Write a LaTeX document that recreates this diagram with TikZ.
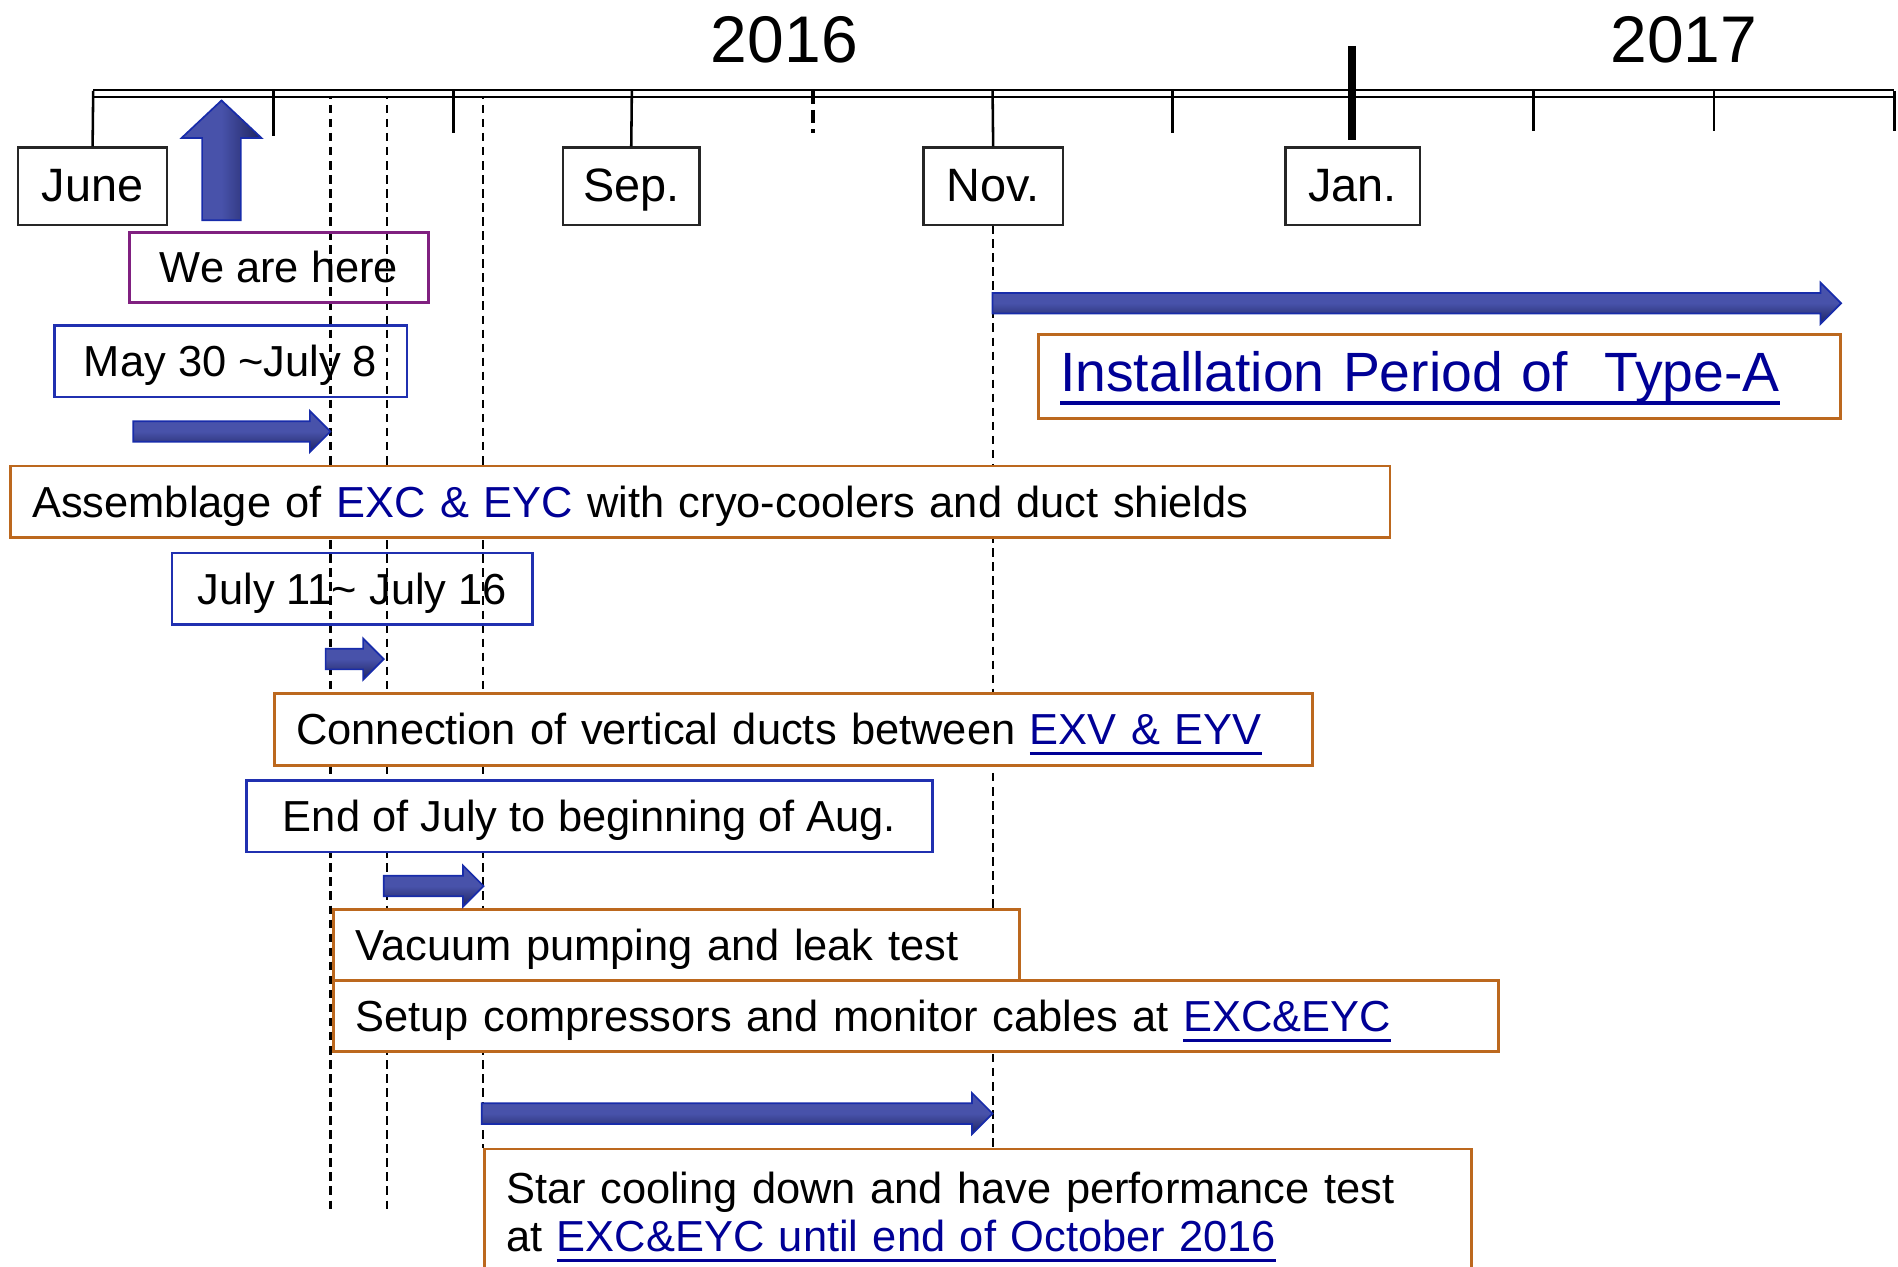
\documentclass[tikz,border=0pt]{standalone}
\usepackage{fontspec}
\setmainfont{Liberation Sans}
\usetikzlibrary{positioning}

\definecolor{taskorange}{RGB}{188,104,30}
\definecolor{periodblue}{RGB}{32,48,176}
\definecolor{herepurple}{RGB}{128,32,128}
\definecolor{linkblue}{RGB}{0,0,150}
\definecolor{arrowlight}{RGB}{72,82,170}
\definecolor{arrowdark}{RGB}{30,36,96}
\definecolor{arrowedge}{RGB}{24,44,170}

\newcommand\taskfont{\fontsize{10.2}{11.4}\selectfont}
\newcommand\monthfont{\fontsize{11}{13}\selectfont}
\newcommand\yearfont{\fontsize{15.5}{18}\selectfont}
\newcommand\typeafont{\fontsize{13}{16}\selectfont}
\newsavebox\linkbox
\newcommand\tlink[1]{{\color{linkblue}\sbox\linkbox{#1}\rlap{\rule[-0.24em]{\wd\linkbox}{0.07em}}\usebox\linkbox}}

\begin{document}
\begin{tikzpicture}[x=0.01cm, y=-0.01cm,
  capcentre/.style={text height=0.72em, text depth=0pt},
  month/.style={draw=black!85, fill=white, line width=0.6pt, minimum height=0.64cm, inner sep=0pt, font=\monthfont, capcentre},
  year/.style={inner sep=0pt, font=\yearfont},
  here/.style={draw=herepurple, line width=0.6pt, minimum height=0.58cm, font=\taskfont, capcentre},
  period/.style={draw=periodblue, line width=0.6pt, minimum height=0.59cm, font=\taskfont, capcentre},
  task/.style={draw=taskorange, fill=white, line width=0.7pt, minimum height=0.59cm, inner xsep=0.18cm, align=left, font=\taskfont, capcentre},
  guide/.style={line width=0.5pt, dash pattern=on 2pt off 1.3pt},
  tick/.style={line width=0.6pt},
  axisline/.style={line width=0.55pt, double, double distance=1.1pt},
  blockarr/.style={draw=arrowedge, line width=0.4pt, top color=arrowlight, bottom color=arrowdark, middle color=arrowlight},
]
\useasboundingbox (0,0) rectangle (1568,1046);
\clip (0,0) rectangle (1568,1046);

% dashed guide lines
\draw[guide] (273,75) -- (273,1003);
\draw[guide] (320,75) -- (320,1003);
\draw[guide] (399,75) -- (399,948);
\draw[guide] (820,186) -- (820,948);

% time axis
\draw[axisline] (77,77.5) -- (1565,77.5);
\node[year] (y2016) at (648,33) {2016};
\node[year] (y2017) at (1391,33) {2017};

% month labels
\node[month, minimum width=1.23cm] (june) at (76.5,154) {June};
\node[month, minimum width=1.13cm] (sep) at (521.5,154) {Sep.};
\node[month, minimum width=1.15cm] (nov) at (820.5,154) {Nov.};
\node[month, minimum width=1.11cm] (jan) at (1117.5,154) {Jan.};

% ticks
\draw[tick] (77,75) -- (june.north);
\draw[tick] (522,75) -- (sep.north);
\draw[tick] (820,75) -- (nov.north);
\foreach \mx/\mlen in {225.8/112, 374.6/110, 968.8/110, 1267/108, 1416/108, 1565/108}
  \draw[tick] (\mx,75) -- (\mx,\mlen);
\draw[line width=0.9pt, dash pattern=on 3pt off 1.5pt] (671.6,75) -- (671.6,110);
\draw[line width=1.8pt] (1117,38) -- (1117,116);

% we are here
\draw[draw=arrowedge, line width=0.4pt, left color=arrowlight, right color=arrowdark, middle color=arrowlight]
  (167,182) -- (167,114) -- (150,114) -- (183,83) -- (216,114) -- (199,114) -- (199,182) -- cycle;
\node[here, minimum width=2.47cm] (here) at (230.5,221) {We are here};

% periods
\node[period, minimum width=2.91cm] (may) at (190.5,298.5) {May 30 \textasciitilde July 8};
\node[period, minimum width=2.98cm] (jul) at (291,486.5) {July 11\textasciitilde{} July 16};
\node[period, fill=white, minimum width=5.66cm] (endjul) at (487,674.5) {End of July to beginning of Aug.};

% tasks
\node[task, text width=11.03cm] (assem) at (578.5,414.5) {Assemblage of {\color{linkblue}EXC \& EYC} with cryo-coolers and duct shields};
\node[task, text width=8.21cm] (conn) at (655.5,602.5) {Connection of vertical ducts between \tlink{EXV \& EYV}};
\node[task, text width=5.30cm] (vac) at (559,780.5) {Vacuum pumping and leak test};
\node[task, text width=9.26cm] (setup) at (757,839.5) {Setup compressors and monitor cables at \tlink{EXC\&EYC}};
\node[task, text width=7.79cm, text height=, text depth=, anchor=north west, inner ysep=0.19cm] (star) at (399,948) {Star cooling down and have performance test\\at \tlink{EXC\&EYC until end of October 2016}};
\node[task, text width=6.26cm, minimum height=0.70cm, font=\typeafont] (typea) at (1189,311) {\tlink{Installation Period of~~Type-A}};

% duration arrows
\foreach \xa/\xb/\yc in {110/273/356.5, 269/317/544.5, 317/399.5/732, 398/820/920, 820/1521/250.5}
  \draw[blockarr] (\xa,\yc-8.5) -- (\xb-17,\yc-8.5) -- (\xb-17,\yc-17) -- (\xb,\yc)
    -- (\xb-17,\yc+17) -- (\xb-17,\yc+8.5) -- (\xa,\yc+8.5) -- cycle;

\end{tikzpicture}
\end{document}
